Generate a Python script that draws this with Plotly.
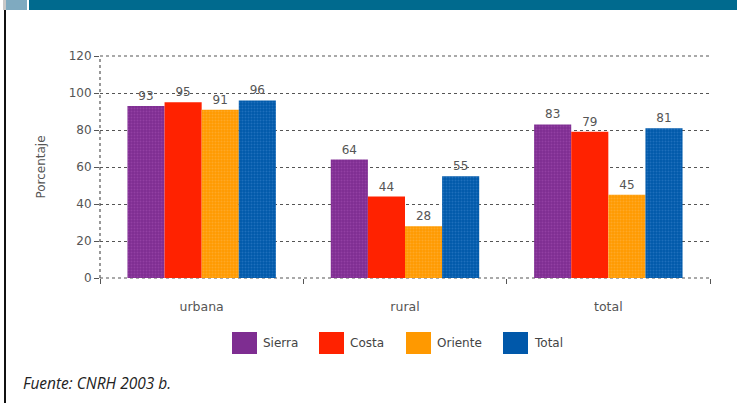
import plotly.graph_objects as go

categories = ["urbana", "rural", "total"]
series_names = ["Sierra", "Costa", "Oriente", "Total"]
sierra = [93, 64, 83]
costa = [95, 44, 79]
oriente = [91, 28, 45]
total = [96, 55, 81]
y_ticks = [0, 20, 40, 60, 80, 100, 120]

values = [sierra, costa, oriente, total]
colors = ["#7E2D91", "#FF2200", "#FF9900", "#0058AA"]
fgcolors = ["#A552B5", None, "#FFB84A", "#3C86CC"]

W, H = 737, 403
L, R, T, B = 100, 27, 56, 125
PW, PH = W - L - R, H - T - B

def px(x):
    return (x - L) / PW

def py(y):
    return (H - B - y) / PH

fig = go.Figure()
for name, vals, c, fg in zip(series_names, values, colors, fgcolors):
    marker = dict(color=c, line=dict(width=0))
    if fg:
        marker["pattern"] = dict(shape=".", fgcolor=fg, size=3, solidity=0.35)
    fig.add_trace(go.Bar(
        x=categories, y=vals, name=name, marker=marker,
        text=[str(v) for v in vals], textposition="outside",
        textfont=dict(size=12, color="#555", family="DejaVu Sans"),
        cliponaxis=False, showlegend=False,
    ))

shapes = []
# top banner
shapes.append(dict(type="rect", xref="paper", yref="paper", x0=px(29), x1=px(737), y0=py(10), y1=py(0),
                   fillcolor="#006A8E", line=dict(width=0), layer="above"))
shapes.append(dict(type="rect", xref="paper", yref="paper", x0=px(6), x1=px(27), y0=py(10), y1=py(0),
                   fillcolor="#7FAAC0", line=dict(width=0), layer="above"))
shapes.append(dict(type="rect", xref="paper", yref="paper", x0=px(3), x1=px(6), y0=py(10), y1=py(0),
                   fillcolor="#C8C8C8", line=dict(width=0), layer="above"))
# left border
shapes.append(dict(type="line", xref="paper", yref="paper", x0=px(5), x1=px(5), y0=py(403), y1=py(10),
                   line=dict(color="#111", width=2)))
# dotted axis lines / boundary gridlines
shapes.append(dict(type="line", xref="paper", yref="paper", x0=0, x1=0, y0=0, y1=1,
                   line=dict(color="#555", width=1.2, dash="dot")))
for yy in (0, 1):
    shapes.append(dict(type="line", xref="paper", yref="paper", x0=0, x1=1, y0=yy, y1=yy,
                       line=dict(color="#555", width=1.2, dash="dot"), layer="below"))

annotations = []
# custom legend
leg_x = [232, 319, 406, 503]
for name, c, fg, lx in zip(series_names, colors, fgcolors, leg_x):
    shapes.append(dict(type="rect", xref="paper", yref="paper", x0=px(lx), x1=px(lx + 25),
                       y0=py(354), y1=py(332), fillcolor=c, line=dict(width=0)))
    annotations.append(dict(xref="paper", yref="paper", x=px(lx + 29), y=py(343), text=name,
                            showarrow=False, xanchor="left", yanchor="middle",
                            font=dict(size=12, color="#444", family="DejaVu Sans")))

annotations.append(dict(xref="paper", yref="paper", x=px(21), y=py(383), text="<i>Fuente: CNRH 2003 b.</i>",
                        showarrow=False, xanchor="left", yanchor="middle",
                        font=dict(size=15.5, color="#222", family="Open Sans")))

fig.update_layout(
    width=W, height=H,
    margin=dict(l=L, r=R, t=T, b=B),
    paper_bgcolor="white", plot_bgcolor="white",
    barmode="group", bargap=0.27, bargroupgap=0,
    shapes=shapes, annotations=annotations,
    font=dict(family="DejaVu Sans", size=11, color="#444"),
)
fig.update_yaxes(
    range=[0, 120], tickvals=y_ticks, ticks="outside", ticklen=5, tickcolor="#555",
    showgrid=True, gridcolor="#555", griddash="dot", gridwidth=1.2,
    zeroline=False, showline=False,
    tickfont=dict(size=12, color="#555"),
    title=dict(text="Porcentaje", standoff=20, font=dict(size=12, color="#555")),
)
fig.update_xaxes(
    ticks="outside", tickson="boundaries", ticklen=5, tickcolor="#555",
    showline=False, showgrid=False, ticklabelstandoff=19,
    tickfont=dict(size=12.5, color="#555"),
)

fig.write_html("out.html", config={"displayModeBar": False},
               post_script="document.body.style.margin='0';")
